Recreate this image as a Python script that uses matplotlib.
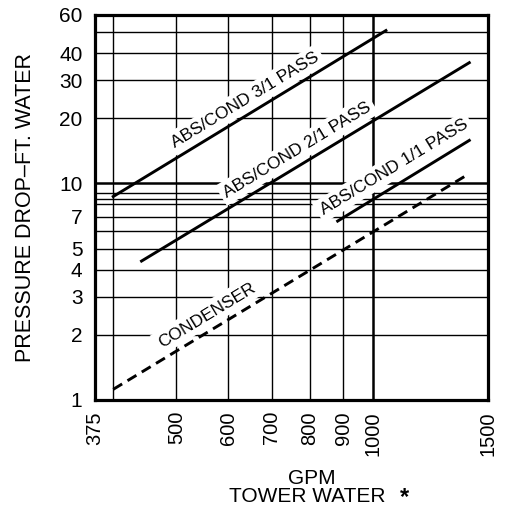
import matplotlib
matplotlib.use("Agg")
import matplotlib.pyplot as plt

plt.rcParams['font.family'] = ['Liberation Sans', 'DejaVu Sans']
plt.rcParams['lines.scale_dashes'] = False

# courbes : (gpm debut, gpm fin), (perte debut, perte fin)
gpm_31 = [400, 1047]
dp_31 = [8.7, 50.8]
gpm_21 = [442, 1405]
dp_21 = [4.38, 36.1]
gpm_11 = [883, 1405]
dp_11 = [6.7, 15.8]
gpm_cond = [400, 1405]
dp_cond = [1.12, 11.1]

# etiquettes des courbes (texte, gpm, perte)
etiquettes = [
    ("ABS/COND 3/1 PASS", 637, 24.3),
    ("ABS/COND 2/1 PASS", 765, 14.3),
    ("ABS/COND 1/1 PASS", 1077, 11.9),
    ("CONDENSER", 556, 2.47),
]

x_ticks = [375, 500, 600, 700, 800, 900, 1000, 1500]
y_ticks = [1, 2, 3, 4, 5, 7, 10, 20, 30, 40, 60]
x_grille = [400, 500, 600, 700, 800, 900]
x_grille_epaisse = [1000]
y_grille = [2, 3, 4, 5, 6, 7, 8, 8.5, 9, 20, 30, 40, 50]
y_grille_epaisse = [10]

fig = plt.figure(figsize=(5.05, 5.19), dpi=100)
ax = fig.add_axes([0.188, 0.2293, 0.778, 0.742])
ax.set_xscale('log')
ax.set_yscale('log')
ax.set_xlim(375, 1500)
ax.set_ylim(1, 60)

for x in x_grille:
    ax.axvline(x, color='black', lw=1.0, zorder=1)
for x in x_grille_epaisse:
    ax.axvline(x, color='black', lw=1.8, zorder=1)
for y in y_grille:
    ax.axhline(y, color='black', lw=1.0, zorder=1)
for y in y_grille_epaisse:
    ax.axhline(y, color='black', lw=1.8, zorder=1)

ax.plot(gpm_31, dp_31, color='black', lw=2.1, zorder=3)
ax.plot(gpm_21, dp_21, color='black', lw=2.1, zorder=3)
ax.plot(gpm_11, dp_11, color='black', lw=2.1, zorder=3)
ax.plot(gpm_cond, dp_cond, color='black', lw=2.1, dashes=(7.5, 4.5), zorder=3)

for texte, x, y in etiquettes:
    ax.text(x, y, texte, rotation=31.3, rotation_mode='anchor', ha='center', va='center',
            fontsize=12.5, zorder=4,
            bbox=dict(facecolor='white', edgecolor='none', pad=3.0))

ax.set_xticks(x_ticks)
ax.set_xticklabels([str(v) for v in x_ticks], rotation=90, fontsize=14.5)
ax.set_yticks(y_ticks)
ax.set_yticklabels([str(v) for v in y_ticks], fontsize=15)
ax.minorticks_off()
ax.tick_params(axis='both', length=0)
ax.tick_params(axis='x', pad=8)
ax.tick_params(axis='y', pad=9)

for s in ax.spines.values():
    s.set_linewidth(2.3)
    s.set_zorder(5)

ax.set_ylabel("PRESSURE DROP\u2013FT. WATER", fontsize=15.5)
ax.yaxis.set_label_coords(-0.15, 0.5)

fig.text(312 / 505, 1 - 478 / 519, "GPM", ha='center', va='center', fontsize=15)
fig.text(307 / 505, 1 - 497 / 519, "TOWER WATER", ha='center', va='center', fontsize=15)
fig.text(405 / 505, 1 - 498 / 519, "*", ha='center', va='center', fontsize=17, fontweight='bold')

fig.savefig("out.png", dpi=100)
